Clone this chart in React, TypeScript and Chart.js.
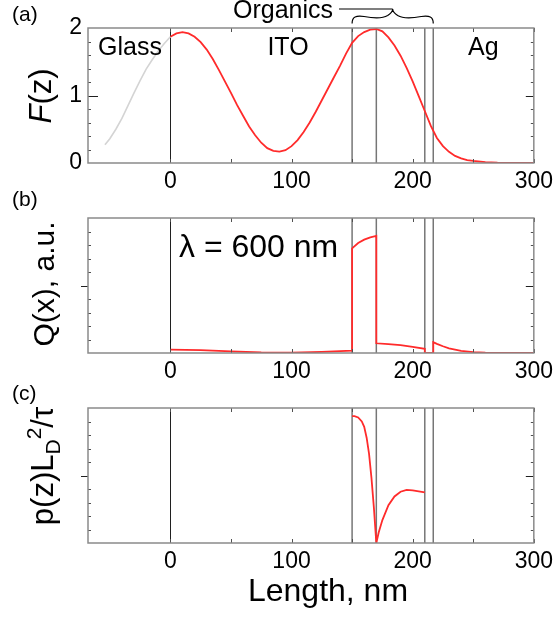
import React, { useEffect, useRef } from "react";
import { Chart, registerables } from "chart.js";

Chart.register(...registerables);

// ---------- data ----------
const X_MIN = -68;
const X_MAX = 300;
const X_LABEL_TICKS = [0, 100, 200, 300];
const X_SMALL_TICKS = [0, 50, 100, 150, 200, 250, 300];
const INTERFACES = [150, 170, 210, 217];
const GLASS_EDGE = 0;
const ORGANICS_FROM = 150;
const ORGANICS_TO = 217;

const F_Y_LABELS = [0, 1, 2];
const F_Y_MAJOR = [1];
const F_Y_MINOR = [0.2, 0.4, 0.6, 0.8, 1.2, 1.4, 1.6, 1.8];
const AU_Y_MAJOR = [0.5];
const AU_Y_MINOR = [0.1, 0.2, 0.3, 0.4, 0.6, 0.7, 0.8, 0.9];

// (a) optical field F(z)
const zF = [0, 5, 10, 15, 20, 25, 30, 35, 40, 45, 50, 55, 60, 65, 70, 75, 80, 85, 90, 95, 100,
  105, 110, 115, 120, 125, 130, 135, 140, 145, 150, 155, 160, 165, 170, 175, 180, 185, 190, 195, 200,
  205, 210, 215, 220, 225, 230, 235, 240, 245, 250, 260, 270, 280, 290, 300];
const fF = [1.87, 1.92, 1.94, 1.92, 1.87, 1.79, 1.68, 1.54, 1.38, 1.21, 1.04, 0.86, 0.70, 0.54, 0.41, 0.30, 0.22, 0.18, 0.17, 0.19, 0.25,
  0.34, 0.46, 0.60, 0.76, 0.93, 1.10, 1.27, 1.44, 1.62, 1.78, 1.88, 1.94, 1.975, 1.985, 1.95, 1.86, 1.74, 1.59, 1.41, 1.21,
  0.99, 0.77, 0.55, 0.37, 0.25, 0.165, 0.105, 0.068, 0.044, 0.03, 0.013, 0.006, 0.003, 0.001, 0.0];
const zGlass = [-54, -50, -45, -40, -35, -30, -25, -20, -15, -10, -5, 0];
const fGlass = [0.27, 0.36, 0.50, 0.66, 0.85, 1.04, 1.22, 1.39, 1.53, 1.66, 1.77, 1.87];

// (b) absorption Q(x)
const zQ = [0, 25, 50, 75, 100, 125, 150, 150, 155, 160, 165, 170, 170, 180, 190, 200, 210, 210, 217, 217, 220, 225, 230, 240, 250, 260, 275, 300];
const qVals = [0.025, 0.022, 0.012, 0.004, 0.002, 0.008, 0.018, 0.775, 0.815, 0.84, 0.857, 0.867, 0.072, 0.066, 0.058, 0.046, 0.031, 0.0, 0.0, 0.08, 0.068, 0.05, 0.035, 0.016, 0.007, 0.003, 0.001, 0.0];

// (c) exciton density
const zP = [150, 152, 155, 158, 160, 162, 164, 166, 168, 170, 172, 175, 180, 185, 190, 195, 200, 205, 210];
const pVals = [0.94, 0.94, 0.93, 0.90, 0.86, 0.78, 0.66, 0.48, 0.26, 0.0, 0.08, 0.17, 0.28, 0.345, 0.38, 0.393, 0.39, 0.383, 0.375];

// ---------- style ----------
const FAM = "'Liberation Sans', Arial, Helvetica, sans-serif";
const RED = "#ff2b2b";
const W = 558;
const PLOT_TOP = 28;
const PLOT_BOTTOM = 163;
const PLOT_LEFT = 88;
const PLOT_RIGHT = 536;

const pts = (xs: number[], ys: number[]) => xs.map((x, i) => ({ x, y: ys[i] }));

type Run = { t: string; size: number; style?: string; dy?: number };

function runsWidth(ctx: CanvasRenderingContext2D, runs: Run[]) {
  let w = 0;
  for (const r of runs) {
    ctx.font = `${r.style || ""} ${r.size}px ${FAM}`;
    w += ctx.measureText(r.t).width;
  }
  return w;
}

function drawRuns(ctx: CanvasRenderingContext2D, runs: Run[], x: number, y: number, align: "left" | "center", rotate: boolean) {
  ctx.save();
  ctx.translate(x, y);
  if (rotate) ctx.rotate(-Math.PI / 2);
  ctx.fillStyle = "#000";
  ctx.textBaseline = "alphabetic";
  ctx.textAlign = "left";
  const w = runsWidth(ctx, runs);
  let cx = align === "center" ? -w / 2 : 0;
  for (const r of runs) {
    ctx.font = `${r.style || ""} ${r.size}px ${FAM}`;
    ctx.fillText(r.t, cx, r.dy || 0);
    cx += ctx.measureText(r.t).width;
  }
  ctx.restore();
}

type Cfg = {
  height: number;
  yMin: number;
  yMax: number;
  yLabels: number[] | null;
  yMajor: number[];
  yMinor: number[];
  majorOutside: boolean;
  datasets: any[];
  text: (chart: any) => void;
};

function decor(cfg: Cfg) {
  return {
    id: "decor",
    beforeDatasetsDraw(chart: any) {
      const { ctx, chartArea: a, scales } = chart;
      const x = scales.x;
      ctx.save();
      ctx.strokeStyle = "#767676";
      ctx.lineWidth = 1.5;
      for (const v of INTERFACES) {
        const px = x.getPixelForValue(v);
        ctx.beginPath();
        ctx.moveTo(px, a.top);
        ctx.lineTo(px, a.bottom);
        ctx.stroke();
      }
      ctx.strokeStyle = "#202020";
      ctx.lineWidth = 1;
      const p0 = Math.round(x.getPixelForValue(GLASS_EDGE)) + 0.5;
      ctx.beginPath();
      ctx.moveTo(p0, a.top);
      ctx.lineTo(p0, a.bottom);
      ctx.stroke();
      ctx.restore();
    },
    afterDatasetsDraw(chart: any) {
      const { ctx, chartArea: a, scales } = chart;
      const x = scales.x;
      const y = scales.y;
      ctx.save();
      ctx.strokeStyle = "#505050";
      ctx.lineWidth = 1;
      for (const v of X_SMALL_TICKS) {
        const px = Math.round(x.getPixelForValue(v)) + 0.5;
        ctx.beginPath();
        ctx.moveTo(px, a.bottom);
        ctx.lineTo(px, a.bottom - 4);
        ctx.moveTo(px, a.top);
        ctx.lineTo(px, a.top + 4);
        ctx.stroke();
      }
      for (const v of cfg.yMinor) {
        const py = Math.round(y.getPixelForValue(v)) + 0.5;
        ctx.beginPath();
        ctx.moveTo(a.left, py);
        ctx.lineTo(a.left + 3, py);
        ctx.moveTo(a.right, py);
        ctx.lineTo(a.right - 3, py);
        ctx.stroke();
      }
      ctx.strokeStyle = "#202020";
      for (const v of cfg.yMajor) {
        const py = Math.round(y.getPixelForValue(v)) + 0.5;
        ctx.beginPath();
        if (cfg.majorOutside) {
          ctx.moveTo(a.left - 7, py);
          ctx.lineTo(a.left, py);
        } else {
          ctx.moveTo(a.left, py);
          ctx.lineTo(a.left + 10, py);
        }
        ctx.moveTo(a.right, py);
        ctx.lineTo(a.right - 8, py);
        ctx.stroke();
      }
      ctx.strokeStyle = "#8a8a8a";
      ctx.lineWidth = 1.5;
      ctx.strokeRect(a.left, a.top, a.right - a.left, a.bottom - a.top);
      ctx.restore();
    },
    afterDraw(chart: any) {
      cfg.text(chart);
    },
  };
}

function Panel({ cfg, top }: { cfg: Cfg; top: number }) {
  const ref = useRef<HTMLCanvasElement | null>(null);
  useEffect(() => {
    if (!ref.current) return;
    const h = cfg.height;
    const chart = new Chart(ref.current, {
      type: "scatter",
      data: { datasets: cfg.datasets },
      options: {
        animation: false,
        responsive: false,
        maintainAspectRatio: false,
        events: [],
        layout: { padding: { top: PLOT_TOP, right: W - PLOT_RIGHT, left: 0, bottom: 0 } },
        plugins: { legend: { display: false }, tooltip: { enabled: false } },
        scales: {
          x: {
            type: "linear",
            min: X_MIN,
            max: X_MAX,
            grid: { display: false, drawTicks: false },
            border: { display: false },
            afterBuildTicks: (s: any) => {
              s.ticks = X_LABEL_TICKS.map((v) => ({ value: v }));
            },
            afterFit: (s: any) => {
              s.height = h - PLOT_BOTTOM;
            },
            ticks: {
              color: "#000",
              font: { family: FAM, size: 23 },
              padding: 5,
              maxRotation: 0,
              autoSkip: false,
            },
          },
          y: {
            type: "linear",
            min: cfg.yMin,
            max: cfg.yMax,
            grid: { display: false, drawTicks: false },
            border: { display: false },
            afterBuildTicks: (s: any) => {
              s.ticks = (cfg.yLabels || []).map((v) => ({ value: v }));
            },
            afterFit: (s: any) => {
              s.width = PLOT_LEFT;
            },
            ticks: {
              display: !!cfg.yLabels,
              color: "#000",
              font: { family: FAM, size: 23 },
              padding: 6,
            },
          },
        },
      } as any,
      plugins: [decor(cfg)],
    });
    return () => chart.destroy();
  }, []);
  return (
    <canvas
      ref={ref}
      width={W}
      height={cfg.height}
      style={{ position: "absolute", left: 0, top, width: W, height: cfg.height }}
    />
  );
}

const line = (data: any[], color: string, width = 1.8) => ({
  data,
  showLine: true,
  borderColor: color,
  borderWidth: width,
  pointRadius: 0,
  tension: 0,
  fill: false,
});

const cfgA: Cfg = {
  height: 190,
  yMin: 0,
  yMax: 2,
  yLabels: F_Y_LABELS,
  yMajor: F_Y_MAJOR,
  yMinor: F_Y_MINOR,
  majorOutside: false,
  datasets: [line(pts(zGlass, fGlass), "#d4d4d4", 1.6), line(pts(zF, fF), RED)],
  text: (chart: any) => {
    const { ctx, scales } = chart;
    const x = scales.x;
    drawRuns(ctx, [{ t: "(a)", size: 21 }], 12, 21, "left", false);
    drawRuns(ctx, [{ t: "Organics", size: 25 }], 233, 18, "left", false);
    drawRuns(ctx, [{ t: "Glass", size: 25 }], 98, 55, "left", false);
    drawRuns(ctx, [{ t: "ITO", size: 25 }], 288, 55, "center", false);
    drawRuns(ctx, [{ t: "Ag", size: 25 }], 468, 55, "left", false);
    drawRuns(ctx, [{ t: "F", size: 31, style: "italic" }, { t: "(z)", size: 31 }], 51, 96, "center", true);
    // brace over organic layers
    const xl = x.getPixelForValue(ORGANICS_FROM);
    const xr = x.getPixelForValue(ORGANICS_TO);
    const xm = (xl + xr) / 2;
    const yEnd = 23.5, yArm = 16.5, yTip = 9;
    ctx.save();
    ctx.strokeStyle = "#000";
    ctx.lineWidth = 1.2;
    ctx.beginPath();
    ctx.moveTo(339, yTip);
    ctx.lineTo(xm, yTip);
    ctx.stroke();
    ctx.beginPath();
    ctx.moveTo(xl, yEnd);
    ctx.bezierCurveTo(xl, yArm, xl + 4, yArm - 1, xl + 12, yArm);
    ctx.bezierCurveTo(xm - 18, yArm + 2, xm - 10, yArm + 2, xm - 5, yArm - 1);
    ctx.bezierCurveTo(xm - 2, yArm - 3, xm, yTip + 3, xm, yTip);
    ctx.bezierCurveTo(xm, yTip + 3, xm + 2, yArm - 3, xm + 5, yArm - 1);
    ctx.bezierCurveTo(xm + 10, yArm + 2, xm + 18, yArm + 2, xr - 12, yArm);
    ctx.bezierCurveTo(xr - 4, yArm - 1, xr, yArm, xr, yEnd);
    ctx.stroke();
    ctx.restore();
  },
};

const cfgB: Cfg = {
  height: 190,
  yMin: 0,
  yMax: 1,
  yLabels: null,
  yMajor: AU_Y_MAJOR,
  yMinor: AU_Y_MINOR,
  majorOutside: true,
  datasets: [line(pts(zQ, qVals), RED)],
  text: (chart: any) => {
    const { ctx } = chart;
    drawRuns(ctx, [{ t: "(b)", size: 21 }], 12, 16, "left", false);
    drawRuns(ctx, [{ t: "λ = 600 nm", size: 32 }], 179, 67, "left", false);
    drawRuns(ctx, [{ t: "Q(x), a.u.", size: 30 }], 54, 94, "center", true);
  },
};

const cfgC: Cfg = {
  height: 237,
  yMin: 0,
  yMax: 1,
  yLabels: null,
  yMajor: AU_Y_MAJOR,
  yMinor: AU_Y_MINOR,
  majorOutside: true,
  datasets: [line(pts(zP, pVals), RED)],
  text: (chart: any) => {
    const { ctx } = chart;
    drawRuns(ctx, [{ t: "(c)", size: 21 }], 12, 20, "left", false);
    drawRuns(
      ctx,
      [
        { t: "p(z)L", size: 31 },
        { t: "D", size: 21, dy: 7 },
        { t: "2", size: 21, dy: -12 },
        { t: "/τ", size: 31 },
      ],
      53,
      86,
      "center",
      true
    );
    drawRuns(ctx, [{ t: "Length, nm", size: 32 }], 328, 221, "center", false);
  },
};

export default function App() {
  return (
    <div style={{ position: "fixed", left: 0, top: 0, width: W, height: 617, background: "#fff" }}>
      <Panel cfg={cfgA} top={0} />
      <Panel cfg={cfgB} top={190} />
      <Panel cfg={cfgC} top={380} />
    </div>
  );
}
